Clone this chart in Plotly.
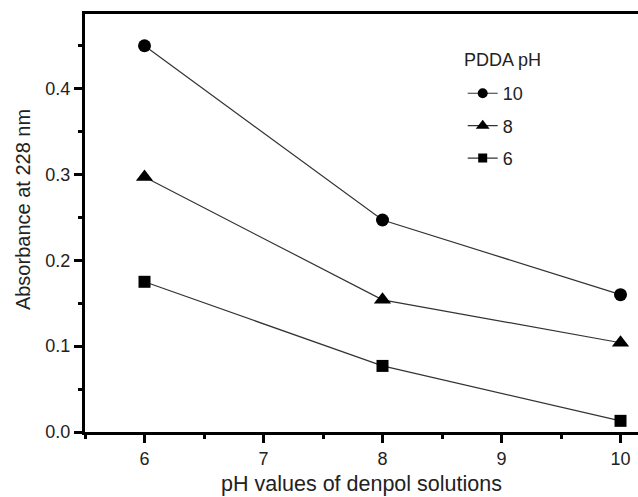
import plotly.graph_objects as go

ph_denpol = [6, 8, 10]
pdda_10 = [0.450, 0.247, 0.160]
pdda_8 = [0.297, 0.154, 0.104]
pdda_6 = [0.175, 0.077, 0.013]

series = [
    ("10", pdda_10, "circle", 13, 10),
    ("8", pdda_8, "triangle-up", 15, 12),
    ("6", pdda_6, "square", 12, 9),
]

line_style = dict(color="#333333", width=1.2)

fig = go.Figure()
for name, vals, sym, sz, lsz in series:
    fig.add_trace(go.Scatter(
        x=ph_denpol, y=vals, name=name, mode="lines+markers",
        line=line_style, showlegend=False,
        marker=dict(symbol=sym, size=sz, color="black"),
    ))
    # legend-only entry with smaller symbol, as in the original legend
    fig.add_trace(go.Scatter(
        x=[None], y=[None], name=name, mode="lines+markers",
        line=line_style, legendgroup=name,
        marker=dict(symbol=sym, size=lsz, color="black"),
    ))

font_family = "Liberation Sans, Arial, sans-serif"
fig.update_layout(
    width=638, height=497,
    margin=dict(l=85, r=0, t=14, b=65),
    plot_bgcolor="white", paper_bgcolor="white",
    font=dict(family=font_family, size=18, color="#222222"),
    showlegend=True,
    legend=dict(
        x=0.683, y=0.854, xanchor="left", yanchor="top",
        bgcolor="rgba(0,0,0,0)",
        font=dict(size=18), tracegroupgap=6,
    ),
    xaxis=dict(
        range=[5.5, 10.147], tickvals=[6, 7, 8, 9, 10],
        showline=True, linewidth=3, linecolor="black", mirror=True,
        ticks="outside", ticklen=8, tickwidth=2.5, tickcolor="black",
        minor=dict(ticks="outside", ticklen=4, tickwidth=2.5, tickcolor="black", dtick=0.5),
        showgrid=False, zeroline=False,
        title=dict(text="pH values of denpol solutions", font=dict(size=21.5), standoff=9),
    ),
    yaxis=dict(
        range=[0, 0.487], tickvals=[0.0, 0.1, 0.2, 0.3, 0.4], ticktext=["0.0", "0.1", "0.2", "0.3", "0.4"],
        showline=True, linewidth=3, linecolor="black",
        ticks="outside", ticklen=8, tickwidth=2.5, tickcolor="black",
        minor=dict(ticks="outside", ticklen=4, tickwidth=2.5, tickcolor="black", dtick=0.05),
        showgrid=False, zeroline=False,
    ),
    annotations=[
        dict(
            text="Absorbance at 228 nm", textangle=-90,
            xref="paper", yref="paper", x=-0.112, y=0.531,
            xanchor="center", yanchor="middle", showarrow=False,
            font=dict(size=20),
        ),
        dict(
            text="PDDA pH",
            xref="paper", yref="paper", x=0.682, y=0.890,
            xanchor="left", yanchor="middle", showarrow=False,
            font=dict(size=18),
        ),
    ],
)

fig.write_html("out.html")
